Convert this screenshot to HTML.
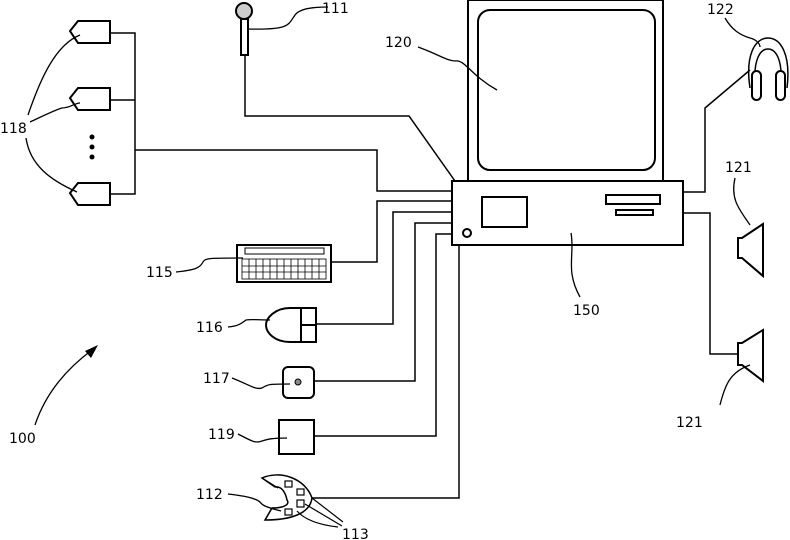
<!DOCTYPE html>
<html><head><style>body{margin:0;background:#fff}svg{display:block}text{font-family:"DejaVu Sans","Liberation Sans",sans-serif;font-size:14px;fill:#000}</style></head><body>
<svg width="790" height="540" viewBox="0 0 790 540" fill="none" stroke="#000" stroke-width="2">
<rect x="468" y="0" width="195" height="181"/>
<rect x="478" y="10" width="177" height="160" rx="12"/>
<rect x="452" y="181" width="231" height="64"/>
<rect x="482" y="197" width="45" height="30"/>
<rect x="606" y="195" width="54" height="9"/>
<rect x="616" y="210" width="37" height="5"/>
<circle cx="467" cy="233" r="4"/>
<circle cx="244" cy="11" r="8" fill="#ccc"/>
<rect x="241" y="19" width="7" height="36"/>
<polyline stroke-width="1.5" points="245,55 245,116 409,116 455,181"/>
<path d="M110,21 H78 L70,31 L78,43 H110 Z"/>
<path d="M110,88 H78 L70,98 L78,110 H110 Z"/>
<path d="M110,183 H78 L70,193 L78,205 H110 Z"/>
<polyline stroke-width="1.5" points="110,33 135,33 135,194 110,194"/>
<line x1="110" y1="100" x2="135" y2="100" stroke-width="1.5"/>
<g fill="#000" stroke="none"><circle cx="92" cy="137" r="2.5"/><circle cx="92" cy="147" r="2.5"/><circle cx="92" cy="157" r="2.5"/></g>
<polyline stroke-width="1.5" points="135,150 377,150 377,191 452,191"/>
<polyline stroke-width="1.5" points="452,201 377,201 377,262 331,262"/>
<polyline stroke-width="1.5" points="452,212 393,212 393,324 316,324"/>
<polyline stroke-width="1.5" points="452,223 415,223 415,381 314,381"/>
<polyline stroke-width="1.5" points="452,234 436,234 436,436 314,436"/>
<polyline stroke-width="1.5" points="459,245 459,498 312,498"/>
<rect x="237" y="245" width="94" height="37"/>
<rect x="245" y="248" width="79" height="6" stroke-width="1"/>
<g stroke-width="0.8"><rect x="242" y="259" width="84" height="20"/>
<line x1="242" y1="266" x2="326" y2="266"/><line x1="242" y1="272" x2="326" y2="272"/>
<path d="M249,259v20M256,259v20M263,259v20M270,259v20M277,259v20M284,259v20M291,259v20M298,259v20M305,259v20M312,259v20M319,259v20"/></g>
<path d="M301,308 H290 C275,308 266,318 266,325 C266,333 275,342 290,342 H301 Z"/>
<rect x="301" y="308" width="15" height="34"/><line x1="301" y1="325" x2="316" y2="325"/>
<rect x="283" y="367" width="31" height="31" rx="5"/>
<circle cx="298" cy="382" r="3" fill="#888" stroke-width="1"/>
<rect x="279" y="420" width="35" height="34"/>
<path stroke-width="1.5" d="M262,478 C280,470 305,478 312,498 C310,514 290,520 265,520 L272,508 C285,508 290,504 287,500 C285,490 280,486 275,487 Z"/>
<path stroke-width="1.2" d="M265,520 L272,508 M262,478 L278,488"/>
<g stroke-width="1.2"><rect x="285" y="481" width="7" height="6"/><rect x="297" y="489" width="7" height="6"/><rect x="297" y="500" width="7" height="7"/><rect x="285" y="509" width="7" height="6"/></g>
<g stroke-width="1.2"><path d="M312,498 L343,522 M305,504 L342,526 M297,511 C305,520 320,525 338,527"/></g>
<polyline stroke-width="1.5" points="683,192 705,192 705,108 750,70 M705,108 777,81"/>
<path d="M750,88 C745,55 755,38 768,38 C781,38 791,55 787,88 M755,80 C754,60 760,49 768,49 C776,49 782,60 781,80" stroke-width="1.5"/>
<rect x="752" y="71" width="9" height="29" rx="4.5" fill="#fff"/><rect x="776" y="71" width="9" height="29" rx="4.5" fill="#fff"/>
<polyline stroke-width="1.5" points="683,213 710,213 710,354 738,354 M710,250 738,250"/>
<path d="M738,238 H742 L763,224 V276 L742,258 H738 Z"/>
<path d="M738,343 H742 L763,330 V381 L742,365 H738 Z"/>
<g stroke-width="1.3">
<path d="M248,29 C290,30 288,25 295,15 C300,8 315,7 328,7"/>
<path d="M418,47 C440,55 445,60 455,61 C465,59 470,75 497,90"/>
<path d="M28,115 C40,80 55,45 80,35"/><path d="M30,122 C45,115 55,110 62,108 C70,108 75,103 80,103"/><path d="M26,138 C30,165 50,180 77,192"/>
<path d="M176,272 C195,270 200,268 203,262 C205,258 210,258 243,258"/>
<path d="M228,327 C240,326 243,322 246,320 C250,319 260,320 270,320"/>
<path d="M232,378 C250,385 255,390 262,388 C268,384 270,384 290,384"/>
<path d="M238,434 C250,440 255,444 262,441 C266,440 268,438 287,438"/>
<path d="M228,494 C245,496 255,498 260,502 C262,505 265,507 281,511"/>
<path d="M571,233 C575,255 565,270 580,297"/>
<path d="M725,18 C732,30 740,35 750,38 C758,40 760,45 760,47"/>
<path d="M735,178 C730,200 740,210 750,225"/>
<path d="M720,405 C725,385 730,372 750,365"/>
<path d="M35,425 C45,395 65,370 92,350"/></g>
<polygon fill="#000" stroke="none" points="98,345 85,351 91,358"/>
<g stroke="none">
<text x="322" y="13">111</text><text x="385" y="47">120</text><text x="0" y="133">118</text>
<text x="146" y="277">115</text><text x="196" y="332">116</text><text x="203" y="383">117</text>
<text x="208" y="439">119</text><text x="196" y="499">112</text><text x="342" y="539">113</text>
<text x="9" y="443">100</text><text x="707" y="14">122</text><text x="573" y="315">150</text>
<text x="725" y="172">121</text><text x="676" y="427">121</text></g>
</svg>
</body></html>
